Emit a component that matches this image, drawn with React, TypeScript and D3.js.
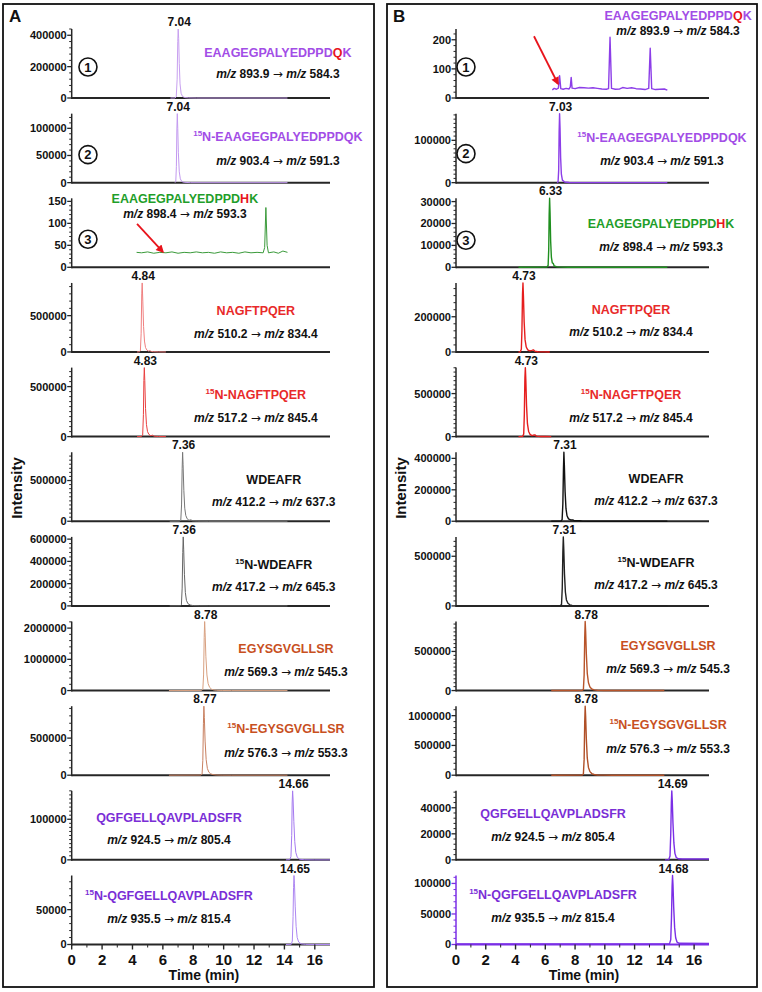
import React from 'react';
import * as d3 from 'd3';

type Pt = [number, number];

const FONT = "'Liberation Sans', Arial, Helvetica, sans-serif";

// --- DATA ---
const peptides = [
  'EAAGEGPALYEDPPDQK',
  '15N-EAAGEGPALYEDPPDQK',
  'EAAGEGPALYEDPPDHK',
  'NAGFTPQER',
  '15N-NAGFTPQER',
  'WDEAFR',
  '15N-WDEAFR',
  'EGYSGVGLLSR',
  '15N-EGYSGVGLLSR',
  'QGFGELLQAVPLADSFR',
  '15N-QGFGELLQAVPLADSFR',
];
// index of the residue printed in red (-1 = none)
const highlightIdx = [15, -1, 15, -1, -1, -1, -1, -1, -1, -1, -1];
const precursorMz = ['893.9', '903.4', '898.4', '510.2', '517.2', '412.2', '417.2', '569.3', '576.3', '924.5', '935.5'];
const productMz = ['584.3', '591.3', '593.3', '834.4', '845.4', '637.3', '645.3', '545.3', '553.3', '805.4', '815.4'];

const rtLabelsA = ['7.04', '7.04', '', '4.84', '4.83', '7.36', '7.36', '8.78', '8.77', '14.66', '14.65'];
const rtLabelsB = ['', '7.03', '6.33', '4.73', '4.73', '7.31', '7.31', '8.78', '8.78', '14.69', '14.68'];

const yMaxA = [440000, 127000, 157, 950000, 690000, 847000, 620000, 2210000, 930000, 170000, 99000];
const yMaxB = [237, 163000, 31500, 392000, 802000, 439000, 695000, 882000, 1159000, 53000, 113000];

const yTicksA = [
  [0, 200000, 400000], [0, 50000, 100000], [0, 50, 100, 150], [0, 500000], [0, 500000], [0, 500000],
  [0, 200000, 400000, 600000], [0, 1000000, 2000000], [0, 500000], [0, 100000], [0, 50000],
];
const yTicksB = [
  [0, 100, 200], [0, 100000], [0, 10000, 20000, 30000], [0, 200000], [0, 500000], [0, 200000, 400000],
  [0, 500000], [0, 500000], [0, 500000, 1000000], [0, 20000, 40000], [0, 50000, 100000],
];

const timeTicks = [0, 2, 4, 6, 8, 10, 12, 14, 16];
const timeMinorTicks = [1, 3, 5, 7, 9, 11, 13, 15];

// --- chromatogram traces, [time (min), intensity] ---
const a1: Pt[] = [[6.5, 0], [6.8, 500], [6.88, 8000], [6.94, 120000], [6.98, 360000], [7.01, 440000], [7.04, 380000], [7.08, 220000], [7.13, 90000], [7.2, 30000], [7.3, 9000], [7.45, 2500], [7.7, 800], [8.2, 0], [14.2, 0]];
const a2: Pt[] = [[6.8, 0], [6.85, 1500], [6.89, 30000], [6.92, 95000], [6.95, 127000], [6.98, 100000], [7.02, 55000], [7.08, 20000], [7.15, 7000], [7.25, 2000], [7.4, 600], [7.8, 0], [14.2, 0]];
const a3: Pt[] = [[4.27, 34], [4.6, 33], [5.0, 35], [5.4, 32], [5.8, 34], [6.2, 33], [6.6, 35], [7.0, 32], [7.4, 34], [7.8, 33], [8.2, 35], [8.6, 33], [9.0, 34], [9.4, 32], [9.8, 35], [10.2, 33], [10.6, 34], [11.0, 32], [11.4, 35], [11.8, 33], [12.2, 34], [12.6, 33], [12.7, 45], [12.78, 136], [12.86, 50], [12.95, 33], [13.3, 35], [13.6, 32], [13.9, 37], [14.2, 34]];
const a4: Pt[] = [[4.3, 0], [4.45, 2000], [4.52, 15000], [4.57, 250000], [4.61, 800000], [4.64, 950000], [4.68, 700000], [4.73, 350000], [4.79, 150000], [4.86, 60000], [4.95, 25000], [5.05, 12000], [5.15, 18000], [5.25, 6000], [5.4, 3000], [5.7, 1000], [6.2, 0]];
const a5: Pt[] = [[4.3, 0], [4.6, 1500], [4.67, 12000], [4.72, 220000], [4.75, 560000], [4.78, 690000], [4.81, 560000], [4.86, 280000], [4.92, 120000], [4.99, 50000], [5.08, 22000], [5.2, 9000], [5.32, 14000], [5.42, 4000], [5.7, 1000], [6.2, 0]];
const a6: Pt[] = [[6.45, 0], [7.1, 1000], [7.18, 12000], [7.23, 200000], [7.27, 650000], [7.3, 847000], [7.33, 700000], [7.38, 380000], [7.44, 160000], [7.51, 70000], [7.6, 30000], [7.72, 12000], [7.85, 18000], [7.95, 5000], [8.3, 1500], [9.0, 0], [14.2, 0]];
const a7: Pt[] = [[6.45, 0], [7.15, 800], [7.22, 9000], [7.27, 160000], [7.31, 480000], [7.34, 620000], [7.37, 510000], [7.42, 280000], [7.48, 120000], [7.55, 50000], [7.65, 20000], [7.8, 8000], [8.0, 2500], [8.4, 800], [9.0, 0], [14.2, 0]];
const a8: Pt[] = [[6.4, 0], [8.55, 3000], [8.63, 40000], [8.68, 500000], [8.72, 1700000], [8.75, 2210000], [8.78, 1850000], [8.83, 1100000], [8.9, 500000], [8.98, 220000], [9.08, 100000], [9.2, 45000], [9.35, 20000], [9.55, 8000], [9.9, 2000], [10.5, 0], [14.2, 0]];
const a9: Pt[] = [[6.4, 0], [8.5, 1500], [8.58, 15000], [8.63, 200000], [8.67, 700000], [8.7, 930000], [8.73, 780000], [8.78, 460000], [8.85, 210000], [8.93, 90000], [9.03, 40000], [9.15, 18000], [9.3, 8000], [9.5, 3000], [9.9, 800], [10.5, 0], [14.2, 0]];
const a10: Pt[] = [[14.1, 0], [14.35, 500], [14.43, 8000], [14.48, 60000], [14.51, 140000], [14.54, 170000], [14.57, 150000], [14.62, 95000], [14.68, 45000], [14.75, 18000], [14.85, 6000], [15.0, 1500], [15.3, 300], [16.0, 0], [17, 0]];
const a11: Pt[] = [[14.1, 0], [14.45, 300], [14.52, 5000], [14.57, 40000], [14.6, 82000], [14.63, 99000], [14.66, 88000], [14.71, 55000], [14.77, 26000], [14.84, 10000], [14.94, 3500], [15.1, 900], [15.4, 200], [16.0, 0], [17, 0]];

const b1: Pt[] = [[6.47, 28], [6.6, 33], [6.75, 30], [6.88, 34], [6.96, 77], [7.04, 32], [7.2, 30], [7.4, 33], [7.6, 31], [7.68, 38], [7.74, 71], [7.8, 34], [8.0, 32], [8.3, 36], [8.6, 35], [8.9, 34], [9.2, 35], [9.5, 33], [9.8, 31], [10.1, 30], [10.25, 32], [10.35, 209], [10.45, 33], [10.7, 30], [11.0, 31], [11.2, 36], [11.5, 33], [11.8, 35], [12.1, 32], [12.4, 31], [12.7, 29], [12.95, 33], [13.05, 171], [13.15, 32], [13.4, 29], [13.7, 30], [14.0, 31], [14.2, 27]];
const b2: Pt[] = [[6.8, 0], [6.86, 2000], [6.9, 30000], [6.93, 120000], [6.96, 163000], [6.99, 130000], [7.03, 60000], [7.08, 20000], [7.15, 6000], [7.3, 1500], [7.6, 400], [8.2, 0], [14.2, 0]];
const b3: Pt[] = [[4.2, 0], [6.1, 100], [6.19, 800], [6.23, 8000], [6.26, 24000], [6.29, 31500], [6.32, 25000], [6.36, 12000], [6.41, 4500], [6.47, 2000], [6.53, 1800], [6.6, 600], [6.8, 200], [7.5, 0], [14.2, 0]];
const b4: Pt[] = [[4.2, 0], [4.32, 1500], [4.39, 15000], [4.43, 120000], [4.47, 330000], [4.5, 392000], [4.53, 320000], [4.58, 170000], [4.64, 70000], [4.72, 28000], [4.82, 12000], [4.95, 6000], [5.1, 9000], [5.2, 12000], [5.3, 4000], [5.5, 1500], [5.9, 400], [6.3, 0]];
const b5: Pt[] = [[4.2, 0], [4.48, 3000], [4.55, 30000], [4.59, 250000], [4.63, 680000], [4.66, 802000], [4.69, 670000], [4.74, 360000], [4.8, 150000], [4.88, 60000], [4.98, 25000], [5.1, 12000], [5.22, 18000], [5.3, 20000], [5.4, 6000], [5.7, 2000], [6.0, 600], [6.4, 0]];
const b6: Pt[] = [[6.4, 0], [7.05, 800], [7.13, 10000], [7.18, 110000], [7.22, 330000], [7.25, 439000], [7.28, 360000], [7.33, 190000], [7.39, 80000], [7.46, 35000], [7.56, 15000], [7.7, 8000], [7.85, 9000], [7.95, 3000], [8.3, 3500], [8.5, 1000], [9.0, 0], [14.2, 0]];
const b7: Pt[] = [[6.4, 0], [7.0, 1200], [7.09, 15000], [7.14, 180000], [7.18, 540000], [7.21, 695000], [7.24, 580000], [7.29, 320000], [7.35, 140000], [7.42, 60000], [7.52, 26000], [7.65, 11000], [7.8, 5000], [8.0, 2000], [8.4, 600], [9.0, 0], [14.2, 0]];
const b8: Pt[] = [[6.4, 0], [8.48, 1500], [8.56, 15000], [8.61, 200000], [8.65, 680000], [8.68, 882000], [8.71, 760000], [8.76, 460000], [8.82, 220000], [8.9, 100000], [9.0, 45000], [9.12, 20000], [9.28, 9000], [9.5, 3500], [9.9, 1000], [10.5, 0], [14.0, 0]];
const b9: Pt[] = [[6.4, 0], [8.48, 2000], [8.56, 20000], [8.61, 270000], [8.65, 900000], [8.68, 1159000], [8.71, 1000000], [8.76, 600000], [8.82, 290000], [8.9, 130000], [9.0, 60000], [9.12, 27000], [9.28, 12000], [9.5, 4500], [9.9, 1200], [10.5, 0], [14.0, 0]];
const b10: Pt[] = [[14.05, 0], [14.3, 200], [14.38, 3000], [14.43, 20000], [14.47, 44000], [14.5, 53000], [14.53, 46000], [14.58, 28000], [14.64, 13000], [14.71, 5000], [14.8, 1800], [14.95, 800], [15.2, 700], [17, 600]];
const b11: Pt[] = [[0, 1000], [14.2, 1000], [14.35, 1500], [14.43, 8000], [14.48, 45000], [14.52, 95000], [14.55, 113000], [14.58, 98000], [14.63, 60000], [14.69, 28000], [14.76, 11000], [14.85, 4000], [15.0, 2000], [17, 1800]];

// red arrows: [time, intensity] start -> end
const arrowA3: Pt[] = [[4.3, 99], [6.0, 35]];
const arrowB1: Pt[] = [[5.24, 212], [6.85, 49]];

// --- LAYOUT / STYLE ---
const textColors = ['#a24de6', '#a24de6', '#1f9e2a', '#e82a2a', '#e82a2a', '#111', '#111', '#c8501e', '#c8501e', '#7a2ed6', '#7a2ed6'];
const lineColorsA = ['#c8a0f0', '#c39af0', '#3a9a3a', '#f08080', '#ea4040', '#777', '#666', '#d8a080', '#c88060', '#a57af0', '#ae88f2'];
const lineColorsB = ['#8c3ee8', '#8c3ee8', '#1f8f1f', '#e61e1e', '#e61e1e', '#111', '#222', '#b8542a', '#b05028', '#7b2fe6', '#7b2fe6'];

// [label x (min), label dy, m/z dy] relative to the sub-plot baseline (text centres)
const labelPosA = [[13.57, -46, -24], [13.57, -46, -22], [7.45, -69, -54], [12.12, -41, -18], [12.12, -42, -19], [13.3, -42, -20], [13.3, -41, -19], [14.1, -42, -19], [14.1, -47, -23], [6.4, -42, -20], [6.4, -49, -26]];
const labelPosB = [[14.92, -83, -67], [13.84, -45, -22], [13.78, -44, -21], [11.76, -42, -20], [11.76, -42, -19], [13.44, -43, -21], [13.44, -43, -21], [14.25, -45, -22], [14.25, -51, -27], [6.52, -46, -23], [6.52, -50, -27]];

const BASE0 = 98;
const STEP = 84.65;
const PLOT_H = 69;
const AXIS = '#262626';

function PeptideLabel({ x, y, name, hi, color }: { x: number; y: number; name: string; hi: number; color: string }) {
  const iso = name.startsWith('15N-');
  const rest = iso ? name.slice(4) : name;
  const parts = hi >= 0
    ? [rest.slice(0, hi), rest.slice(hi, hi + 1), rest.slice(hi + 1)]
    : [rest, '', ''];
  return (
    <text x={x} y={y} textAnchor="middle" fontSize={12.5} fontWeight="bold" fill={color}>
      {iso && <tspan fontSize={8} dy={-5}>15</tspan>}
      <tspan dy={iso ? 5 : 0}>{(iso ? 'N-' : '') + parts[0]}</tspan>
      {parts[1] && <tspan fill="#e8141c">{parts[1]}</tspan>}
      {parts[2] && <tspan>{parts[2]}</tspan>}
    </text>
  );
}

function MzLabel({ x, y, p, q }: { x: number; y: number; p: string; q: string }) {
  return (
    <text x={x} y={y} textAnchor="middle" fontSize={12} fontWeight="bold" fill="#111" style={{ whiteSpace: 'pre' }}>
      <tspan fontStyle="italic">m/z</tspan>
      <tspan>{` ${p} `}</tspan>
      <tspan fontFamily="'DejaVu Sans', sans-serif" fontWeight="normal" fontSize={12}>{'\u2192'}</tspan>
      <tspan>{' '}</tspan>
      <tspan fontStyle="italic">m/z</tspan>
      <tspan>{` ${q}`}</tspan>
    </text>
  );
}

interface PanelCfg {
  letter: string;
  boxX: number;
  boxW: number;
  x0: number;
  x1: number;
  intensityX: number;
  traces: Pt[][];
  yMax: number[];
  yTicks: number[][];
  rt: string[];
  colors: string[];
  lineWidth: number;
  labelPos: number[][];
  circleT: number;
  circleDy: number[];
  arrow: Pt[];
  arrowIdx: number;
  axisColors: string[];
  timeTitleT: number;
}

function Panel({ cfg }: { cfg: PanelCfg }) {
  const x = d3.scaleLinear().domain([0, 17]).range([cfg.x0, cfg.x1]);
  const fmt = (v: number) => String(v);
  const lastBase = BASE0 + STEP * (cfg.traces.length - 1);

  return (
    <g>
      <rect x={cfg.boxX} y={4} width={cfg.boxW} height={983} fill="none" stroke="#111" strokeWidth={1.8} />
      <text x={cfg.boxX + 6} y={22} fontSize={17} fontWeight="bold" fill="#111">{cfg.letter}</text>
      <text transform={`translate(${cfg.intensityX},488) rotate(-90)`} textAnchor="middle" fontSize={15} fontWeight="bold" fill="#111">Intensity</text>

      {cfg.traces.map((tr, i) => {
        const y0 = BASE0 + STEP * i;
        const y = d3.scaleLinear().domain([0, cfg.yMax[i]]).range([y0, y0 - PLOT_H]);
        const ticks = cfg.yTicks[i];
        const major = ticks[1] - ticks[0];
        const majorPx = y(0) - y(major);
        const nSub = majorPx > 38 ? 10 : 5;
        const minor = d3.range(0, cfg.yMax[i] + 1e-9, major / nSub).filter(v => !ticks.some(t => Math.abs(t - v) < 1e-6));
        const line = d3.line<Pt>().x(d => x(d[0])).y(d => y(d[1]));
        const apex = d3.greatest(tr, d => d[1]) as Pt;
        const [lt, ldy, mdy] = cfg.labelPos[i];
        const axc = cfg.axisColors[i];
        return (
          <g key={i}>
            <line x1={x(0)} x2={x(17)} y1={y0} y2={y0} stroke={axc} strokeWidth={2} />
            <line x1={x(0)} x2={x(0)} y1={y0 + 1} y2={y0 - PLOT_H} stroke={axc} strokeWidth={1.5} />
            {minor.map(v => (
              <line key={'m' + v} x1={x(0) - 2.5} x2={x(0)} y1={y(v)} y2={y(v)} stroke={axc} strokeWidth={1} />
            ))}
            {ticks.map(v => (
              <g key={v}>
                <line x1={x(0) - 4.5} x2={x(0)} y1={y(v)} y2={y(v)} stroke={axc} strokeWidth={1.3} />
                <text x={x(0) - 5} y={y(v)} dy="0.36em" textAnchor="end" fontSize={11} fontWeight="bold" fill="#111">{fmt(v)}</text>
              </g>
            ))}
            <path d={line(tr) || ''} fill="none" stroke={cfg.colors[i]} strokeWidth={cfg.lineWidth} strokeLinejoin="round" />
            {cfg.rt[i] && (
              <text x={x(apex[0]) + 1} y={y0 - 72} textAnchor="middle" fontSize={12} fontWeight="bold" fill="#111">{cfg.rt[i]}</text>
            )}
            <PeptideLabel x={x(lt)} y={y0 + ldy + 4.5} name={peptides[i]} hi={highlightIdx[i]} color={textColors[i]} />
            <MzLabel x={x(lt)} y={y0 + mdy + 4.3} p={precursorMz[i]} q={productMz[i]} />
            {i < 3 && (
              <g>
                <circle cx={x(cfg.circleT)} cy={y0 + cfg.circleDy[i]} r={9} fill="none" stroke="#111" strokeWidth={1.6} />
                <text x={x(cfg.circleT)} y={y0 + cfg.circleDy[i]} dy="0.36em" textAnchor="middle" fontSize={13} fontWeight="bold" fill="#111">{i + 1}</text>
              </g>
            )}
            {i === cfg.arrowIdx && (
              <line
                x1={x(cfg.arrow[0][0])} y1={y(cfg.arrow[0][1])}
                x2={x(cfg.arrow[1][0])} y2={y(cfg.arrow[1][1])}
                stroke="#e8141c" strokeWidth={1.8} markerEnd="url(#redHead)"
              />
            )}
          </g>
        );
      })}

      {/* time axis on the bottom sub-plot */}
      {timeMinorTicks.map(t => (
        <line key={'tm' + t} x1={x(t)} x2={x(t)} y1={lastBase} y2={lastBase + 3} stroke={AXIS} strokeWidth={1} />
      ))}
      {timeTicks.map(t => (
        <g key={'t' + t}>
          <line x1={x(t)} x2={x(t)} y1={lastBase} y2={lastBase + 5} stroke={AXIS} strokeWidth={1.4} />
          <text x={x(t)} y={lastBase + 20} textAnchor="middle" fontSize={15} fontWeight="bold" fill="#111">{t}</text>
        </g>
      ))}
      <text x={x(cfg.timeTitleT)} y={lastBase + 35} textAnchor="middle" fontSize={14} fontWeight="bold" fill="#111">Time (min)</text>
    </g>
  );
}

const panelA: PanelCfg = {
  letter: 'A', boxX: 3, boxW: 371, x0: 71.7, x1: 330, intensityX: 22,
  traces: [a1, a2, a3, a4, a5, a6, a7, a8, a9, a10, a11],
  yMax: yMaxA, yTicks: yTicksA, rt: rtLabelsA, colors: lineColorsA, lineWidth: 1,
  labelPos: labelPosA, circleT: 1.07, circleDy: [-31, -28, -28],
  arrow: arrowA3, arrowIdx: 2,
  axisColors: Array(11).fill(AXIS), timeTitleT: 8.7,
};

const panelB: PanelCfg = {
  letter: 'B', boxX: 387, boxW: 370, x0: 456, x1: 709, intensityX: 406,
  traces: [b1, b2, b3, b4, b5, b6, b7, b8, b9, b10, b11],
  yMax: yMaxB, yTicks: yTicksB, rt: rtLabelsB, colors: lineColorsB, lineWidth: 1.4,
  labelPos: labelPosB, circleT: 0.67, circleDy: [-31, -29, -27],
  arrow: arrowB1, arrowIdx: 0,
  axisColors: [...Array(10).fill(AXIS), '#7b2fe6'], timeTitleT: 8.6,
};

export default function App() {
  return (
    <svg width={762} height={992} style={{ position: 'absolute', left: 0, top: 0 }} fontFamily={FONT}>
      <rect width={762} height={992} fill="#fff" />
      <defs>
        <marker id="redHead" viewBox="0 0 10 10" refX="8" refY="5" markerWidth="9" markerHeight="8"
          markerUnits="userSpaceOnUse" orient="auto">
          <path d="M0,0 L10,5 L0,10 z" fill="#e8141c" />
        </marker>
      </defs>
      <Panel cfg={panelA} />
      <Panel cfg={panelB} />
    </svg>
  );
}
